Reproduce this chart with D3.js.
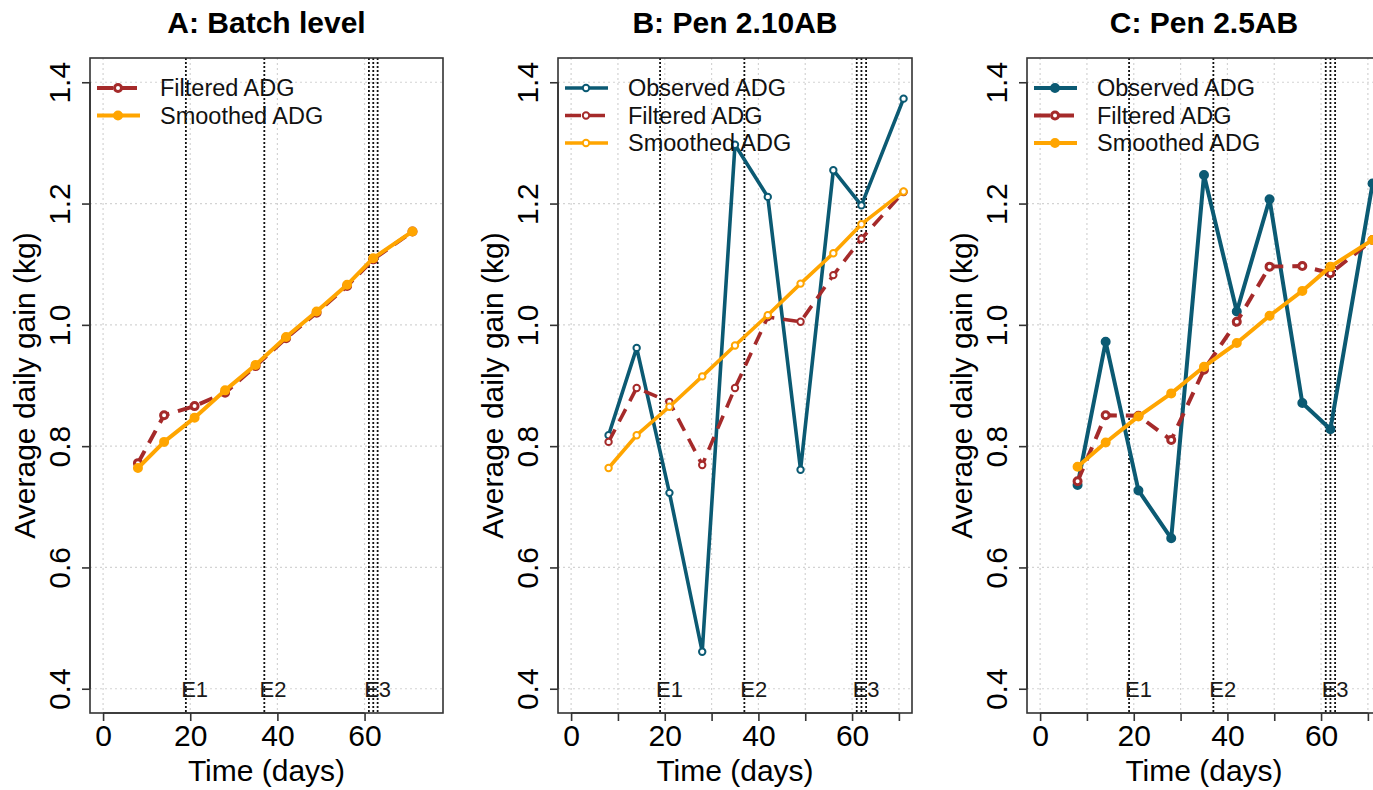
<!DOCTYPE html>
<html>
<head>
<meta charset="utf-8">
<script src="https://cdn.jsdelivr.net/npm/d3@7"></script>
<style>
  body { margin: 0; background: #fff; }
  svg { display: block; font-family: "Liberation Sans", Arial, sans-serif; }
</style>
</head>
<body>
<svg id="chart" width="1373" height="790"></svg>
<script>
// Sampling days (same for all panels)
const days = [8, 14, 21, 28, 35, 42, 49, 56, 62, 71];

// A: batch level
const batchFiltered = [0.772, 0.851, 0.866, 0.888, 0.932, 0.978, 1.020, 1.064, 1.108, 1.154];
const batchSmoothed = [0.764, 0.807, 0.847, 0.892, 0.934, 0.980, 1.022, 1.066, 1.110, 1.154];

// B: pen 2.10AB
const pen210Observed = [0.818, 0.962, 0.723, 0.461, 1.297, 1.211, 0.761, 1.255, 1.197, 1.373];
const pen210Filtered = [0.807, 0.896, 0.873, 0.769, 0.896, 1.013, 1.005, 1.082, 1.142, 1.219];
const pen210Smoothed = [0.764, 0.818, 0.865, 0.915, 0.966, 1.016, 1.068, 1.118, 1.166, 1.220];

// C: pen 2.5AB
const pen25Observed = [0.736, 0.972, 0.727, 0.648, 1.247, 1.022, 1.207, 0.871, 0.828, 1.233];
const pen25Filtered = [0.742, 0.851, 0.850, 0.810, 0.926, 1.005, 1.096, 1.097, 1.085, 1.140];
const pen25Smoothed = [0.766, 0.806, 0.849, 0.887, 0.931, 0.970, 1.015, 1.056, 1.096, 1.140];

// Events
const eventDays = [19, 37, 61, 62, 63];
const eventLabels = ["E1", "E2", "E3"];
const eventLabelDays = [21, 39, 63];

// Axis ticks
const yTicks = [0.4, 0.6, 0.8, 1.0, 1.2, 1.4];
const yLimits = [0.4, 1.4];

const colObserved = "#0b5a73";
const colFiltered = "#a52a2a";
const colSmoothed = "#ffa500";

const svg = d3.select("#chart");
const plotTop = 58, plotBottom = 713;

// Extend a range by 4% like R does
function extend(lim) {
  const pad = (lim[1] - lim[0]) * 0.04;
  return [lim[0] - pad, lim[1] + pad];
}

const panels = [
  {
    title: "A: Batch level", left: 90, right: 443, xLim: [0, 75],
    xTicks: [0, 20, 40, 60], heavy: true,
    series: [
      {name: "Filtered ADG", values: batchFiltered, color: colFiltered, dash: "14,9", hollow: true},
      {name: "Smoothed ADG", values: batchSmoothed, color: colSmoothed, dash: null, hollow: false}
    ]
  },
  {
    title: "B: Pen 2.10AB", left: 558, right: 912, xLim: [0, 70],
    xTicks: d3.range(0, 71, 10), heavy: false,
    series: [
      {name: "Observed ADG", values: pen210Observed, color: colObserved, dash: null, hollow: true},
      {name: "Filtered ADG", values: pen210Filtered, color: colFiltered, dash: "14,9", hollow: true},
      {name: "Smoothed ADG", values: pen210Smoothed, color: colSmoothed, dash: null, hollow: true}
    ]
  },
  {
    title: "C: Pen 2.5AB", left: 1027, right: 1381, xLim: [0, 70],
    xTicks: d3.range(0, 71, 10), heavy: true,
    series: [
      {name: "Observed ADG", values: pen25Observed, color: colObserved, dash: null, hollow: false},
      {name: "Filtered ADG", values: pen25Filtered, color: colFiltered, dash: "14,9", hollow: true},
      {name: "Smoothed ADG", values: pen25Smoothed, color: colSmoothed, dash: null, hollow: false}
    ]
  }
];

function drawMarker(g, cx, cy, s, p) {
  g.append("circle")
    .attr("cx", cx).attr("cy", cy)
    .attr("r", p.heavy ? 3.5 : 3.2)
    .attr("fill", s.hollow ? "#fff" : s.color)
    .attr("stroke", s.color)
    .attr("stroke-width", p.heavy ? 3 : 2);
}

panels.forEach(p => {
  const x = d3.scaleLinear().domain(extend(p.xLim)).range([p.left, p.right]);
  const y = d3.scaleLinear().domain(extend(yLimits)).range([plotBottom, plotTop]);
  const g = svg.append("g");
  const lw = p.heavy ? 4 : 3.6;

  // Grid
  g.selectAll(".vgrid").data(p.xTicks).join("line")
    .attr("x1", d => x(d)).attr("x2", d => x(d))
    .attr("y1", plotTop).attr("y2", plotBottom)
    .attr("stroke", "#d3d3d3").attr("stroke-width", 1.2).attr("stroke-dasharray", "2,3");
  g.selectAll(".hgrid").data(yTicks).join("line")
    .attr("x1", p.left).attr("x2", p.right)
    .attr("y1", d => y(d)).attr("y2", d => y(d))
    .attr("stroke", "#d3d3d3").attr("stroke-width", 1.2).attr("stroke-dasharray", "2,3");

  // Event lines
  g.selectAll(".ev").data(eventDays).join("line")
    .attr("x1", d => x(d)).attr("x2", d => x(d))
    .attr("y1", plotTop).attr("y2", plotBottom)
    .attr("stroke", "#111").attr("stroke-width", 1.8).attr("stroke-dasharray", "2,2");
  g.selectAll(".evlab").data(eventLabels).join("text")
    .attr("x", (d, i) => x(eventLabelDays[i]))
    .attr("y", y(0.4))
    .attr("dy", "0.36em")
    .attr("text-anchor", "middle")
    .attr("font-size", 22)
    .attr("fill", "#1a1a1a")
    .text(d => d);

  // Series
  p.series.forEach(s => {
    const line = d3.line().x((d, i) => x(days[i])).y(d => y(d));
    g.append("path").datum(s.values)
      .attr("d", line)
      .attr("fill", "none")
      .attr("stroke", s.color)
      .attr("stroke-width", lw)
      .attr("stroke-linejoin", "round")
      .attr("stroke-dasharray", s.dash);
    s.values.forEach((v, i) => drawMarker(g, x(days[i]), y(v), s, p));
  });

  // Box
  g.append("rect")
    .attr("x", p.left).attr("y", plotTop)
    .attr("width", p.right - p.left).attr("height", plotBottom - plotTop)
    .attr("fill", "none").attr("stroke", "#333").attr("stroke-width", 1.6);

  // X axis
  const xAxis = d3.axisBottom(x).tickValues(p.xTicks).tickSize(8)
    .tickFormat(d => d % 20 === 0 ? d : "");
  const xg = g.append("g").attr("transform", `translate(0,${plotBottom})`).call(xAxis);
  xg.select(".domain").attr("d", `M${x(p.xTicks[0])},0H${x(p.xTicks[p.xTicks.length - 1])}`)
    .attr("stroke", "#333").attr("stroke-width", 1.6);
  xg.selectAll(".tick line").attr("stroke", "#333").attr("stroke-width", 1.6);
  xg.selectAll(".tick text").attr("font-size", 30).attr("fill", "#000")
    .attr("font-family", "Liberation Sans, Arial, sans-serif").attr("y", 12).attr("dy", "0.71em");

  // Y axis
  const yAxis = d3.axisLeft(y).tickValues(yTicks).tickSize(8).tickFormat(d3.format(".1f"));
  const yg = g.append("g").attr("transform", `translate(${p.left},0)`).call(yAxis);
  yg.select(".domain").attr("d", `M0,${y(yTicks[0])}V${y(yTicks[yTicks.length - 1])}`)
    .attr("stroke", "#333").attr("stroke-width", 1.6);
  yg.selectAll(".tick line").attr("stroke", "#333").attr("stroke-width", 1.6);
  yg.selectAll(".tick text")
    .attr("font-size", 30).attr("fill", "#000")
    .attr("font-family", "Liberation Sans, Arial, sans-serif")
    .attr("x", null).attr("dy", null)
    .attr("text-anchor", "middle")
    .attr("transform", "translate(-20,0) rotate(-90)");

  // Titles
  const cx = (p.left + p.right) / 2;
  g.append("text").attr("x", cx).attr("y", 33)
    .attr("text-anchor", "middle").attr("font-size", 30).attr("font-weight", "bold")
    .text(p.title);
  g.append("text").attr("x", cx).attr("y", 781)
    .attr("text-anchor", "middle").attr("font-size", 30)
    .text("Time (days)");
  g.append("text")
    .attr("transform", `translate(${p.left - 55},${(plotTop + plotBottom) / 2}) rotate(-90)`)
    .attr("text-anchor", "middle").attr("font-size", 30)
    .text("Average daily gain (kg)");

  // Legend
  const leg = g.append("g");
  p.series.forEach((s, i) => {
    const ly = 88 + i * 27.5;
    leg.append("line")
      .attr("x1", p.left + 7).attr("x2", p.left + 50)
      .attr("y1", ly).attr("y2", ly)
      .attr("stroke", s.color).attr("stroke-width", lw)
      .attr("stroke-dasharray", s.dash ? "16,8" : null);
    drawMarker(leg, p.left + 28, ly, s, p);
    leg.append("text")
      .attr("x", p.left + 70).attr("y", ly).attr("dy", "0.35em")
      .attr("font-size", 23.5).attr("fill", "#111")
      .text(s.name);
  });
});
</script>
</body>
</html>
